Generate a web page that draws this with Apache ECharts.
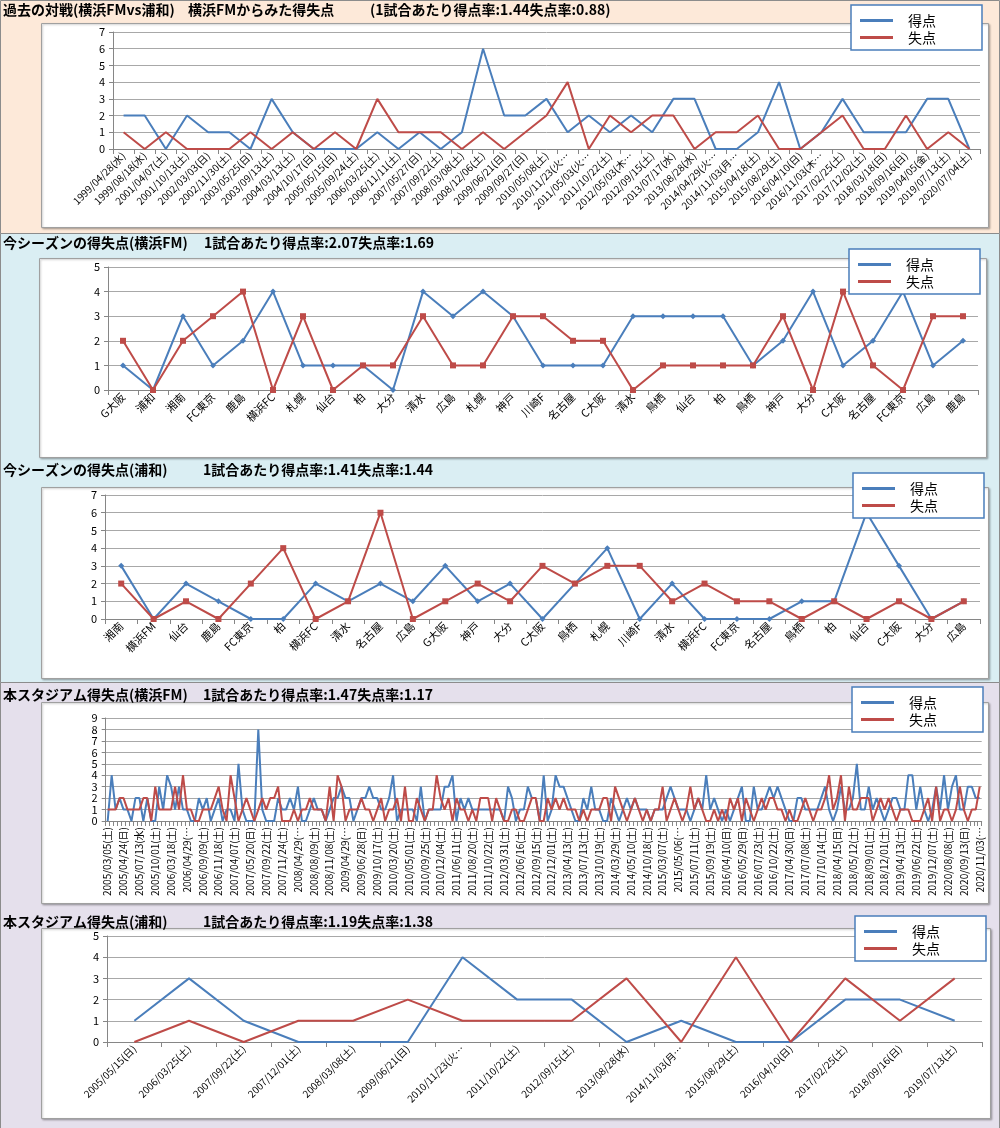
<!DOCTYPE html>
<html><head><meta charset="utf-8">
<script src="https://cdn.jsdelivr.net/npm/echarts@6/dist/echarts.min.js"></script>
<style>html,body{margin:0;padding:0;background:#fff}#c{width:1000px;height:1128px}</style>
</head><body><div id="c"></div>
<script>
const FONT = '"Noto Sans CJK JP", "Noto Sans", sans-serif';

// Panel 1: head-to-head history
const h2hDates = ['1999/04/28(水)','1999/08/18(水)','2001/04/07(土)','2001/10/13(土)','2002/03/03(日)','2002/11/30(土)','2003/05/25(日)','2003/09/13(土)','2004/03/13(土)','2004/10/17(日)','2005/05/15(日)','2005/09/24(土)','2006/03/25(土)','2006/11/11(土)','2007/05/27(日)','2007/09/22(土)','2008/03/08(土)','2008/12/06(土)','2009/06/21(日)','2009/09/27(日)','2010/05/08(土)','2010/11/23(火…','2011/05/03(火…','2011/10/22(土)','2012/05/03(木…','2012/09/15(土)','2013/07/17(水)','2013/08/28(水)','2014/04/29(火…','2014/11/03(月…','2015/04/18(土)','2015/08/29(土)','2016/04/10(日)','2016/11/03(木…','2017/02/25(土)','2017/12/02(土)','2018/03/18(日)','2018/09/16(日)','2019/04/05(金)','2019/07/13(土)','2020/07/04(土)'];
const h2hFor     = [2,2,0,2,1,1,0,3,1,0,0,0,1,0,1,0,1,6,2,2,3,1,2,1,2,1,3,3,0,0,1,4,0,1,3,1,1,1,3,3,0];
const h2hAgainst = [1,0,1,0,0,0,1,0,1,0,1,0,3,1,1,1,0,1,0,1,2,4,0,2,1,2,2,0,1,1,2,0,0,1,2,0,0,2,0,1,0];

// Panel 2: this season (Yokohama FM)
const fmOpponents = ['G大阪','浦和','湘南','FC東京','鹿島','横浜FC','札幌','仙台','柏','大分','清水','広島','札幌','神戸','川崎F','名古屋','C大阪','清水','鳥栖','仙台','柏','鳥栖','神戸','大分','C大阪','名古屋','FC東京','広島','鹿島'];
const fmFor     = [1,0,3,1,2,4,1,1,1,0,4,3,4,3,1,1,1,3,3,3,3,1,2,4,1,2,4,1,2];
const fmAgainst = [2,0,2,3,4,0,3,0,1,1,3,1,1,3,3,2,2,0,1,1,1,1,3,0,4,1,0,3,3];

// Panel 3: this season (Urawa)
const urOpponents = ['湘南','横浜FM','仙台','鹿島','FC東京','柏','横浜FC','清水','名古屋','広島','G大阪','神戸','大分','C大阪','鳥栖','札幌','川崎F','清水','横浜FC','FC東京','名古屋','鳥栖','柏','仙台','C大阪','大分','広島'];
const urFor     = [3,0,2,1,0,0,2,1,2,1,3,1,2,0,2,4,0,2,0,0,0,1,1,6,3,0,1];
const urAgainst = [2,0,1,0,2,4,0,1,6,0,1,2,1,3,2,3,3,1,2,1,1,0,1,0,1,0,1];

// Panel 4: this stadium (Yokohama FM) - dates shown on the axis (every 4th match)
const fmStadiumLabels = ['2005/03/05(土)','2005/04/24(日)','2005/07/13(水)','2005/10/01(土)','2006/03/18(土)','2006/04/29(…','2006/09/09(土)','2006/11/18(土)','2007/04/07(土)','2007/05/20(日)','2007/09/22(土)','2007/11/24(土)','2008/04/29(…','2008/08/09(土)','2008/11/08(土)','2009/04/29(…','2009/06/28(日)','2009/10/17(土)','2010/03/20(土)','2010/05/01(土)','2010/09/25(土)','2010/12/04(土)','2011/06/11(土)','2011/08/20(土)','2011/10/22(土)','2012/03/31(土)','2012/06/16(土)','2012/09/15(土)','2012/12/01(土)','2013/04/13(土)','2013/07/13(土)','2013/10/19(土)','2014/03/29(土)','2014/05/10(土)','2014/10/18(土)','2015/03/07(土)','2015/05/06(…','2015/07/11(土)','2015/09/19(土)','2016/04/10(日)','2016/05/29(日)','2016/07/23(土)','2016/10/22(土)','2017/04/30(日)','2017/07/08(土)','2017/10/14(土)','2018/04/15(日)','2018/05/12(土)','2018/09/01(土)','2018/12/01(土)','2019/04/13(土)','2019/06/22(土)','2019/12/07(土)','2020/08/08(土)','2020/09/13(日)','2020/11/03(…'];
const FM_STEP = 4;
const fmStadiumFor = [
  0,4,1,2,1,1,0,2,2,0, 2,0,0,3,1,4,3,1,3,1, 1,0,0,2,1,2,0,1,2,0, 1,1,0,5,1,0,0,0,8,1,
  0,0,0,2,1,1,2,1,3,0, 0,1,2,1,1,0,1,2,2,3, 2,2,0,1,2,2,3,2,2,1, 1,2,4,0,1,1,1,1,0,3,
  0,1,1,1,1,3,3,4,0,2, 1,2,1,1,1,1,1,1,1,1, 0,3,2,0,1,1,3,2,2,0, 4,0,1,4,3,3,2,1,0,0,
  2,1,3,1,1,0,0,2,1,0, 1,2,1,2,1,1,1,0,1,1, 1,2,3,2,1,1,1,0,1,2, 1,4,1,2,1,0,1,0,1,2,
  3,0,0,3,1,1,2,3,2,3, 2,1,0,0,2,2,1,1,1,1, 2,3,1,0,1,3,1,1,2,5, 1,1,3,1,2,1,0,1,2,2,
  1,1,4,4,1,3,1,0,1,3, 1,4,1,3,4,1,1,3,3,2,2];
const fmStadiumAgainst = [
  1,1,1,2,2,1,1,1,1,2, 2,0,3,1,1,1,1,3,1,4, 1,1,0,0,1,1,1,2,3,1, 0,4,2,0,1,2,1,0,1,2,
  1,2,2,3,0,0,0,1,0,1, 1,2,1,1,1,0,3,0,4,3, 0,1,1,1,2,1,1,0,1,2, 0,1,1,2,0,3,0,0,2,1,
  0,1,1,4,2,1,2,0,2,1, 1,0,1,0,2,2,2,0,2,1, 0,0,1,1,0,0,1,2,2,0, 0,2,1,2,1,2,1,1,1,0,
  1,0,1,1,1,2,2,0,3,2, 1,0,1,2,1,0,1,0,1,1, 3,0,1,2,1,0,1,3,1,2, 1,0,0,1,0,1,0,2,1,2,
  0,2,1,0,1,2,1,2,2,1, 1,0,1,0,0,1,2,1,0,1, 1,2,4,1,2,4,0,3,1,1, 2,2,2,0,1,2,1,2,1,0,
  1,1,1,0,0,0,1,2,0,3, 0,1,1,0,1,3,1,0,1,1,3];

// Panel 5: this stadium (Urawa)
const urStadiumDates = ['2005/05/15(日)','2006/03/25(土)','2007/09/22(土)','2007/12/01(土)','2008/03/08(土)','2009/06/21(日)','2010/11/23(火…','2011/10/22(土)','2012/09/15(土)','2013/08/28(水)','2014/11/03(月…','2015/08/29(土)','2016/04/10(日)','2017/02/25(土)','2018/09/16(日)','2019/07/13(土)'];
const urStadiumFor     = [1,3,1,0,0,0,4,2,2,0,1,0,0,2,2,1];
const urStadiumAgainst = [0,1,0,1,1,2,1,1,1,3,0,4,0,3,1,3];

const titles = [
  [['過去の対戦(横浜FMvs浦和)',3],['横浜FMからみた得失点',188],['(1試合あたり得点率:1.44失点率:0.88)',370]],
  [['今シーズンの得失点(横浜FM)',3],['1試合あたり得点率:2.07失点率:1.69',204]],
  [['今シーズンの得失点(浦和)',3],['1試合あたり得点率:1.41失点率:1.44',203]],
  [['本スタジアム得失点(横浜FM)',3],['1試合あたり得点率:1.47失点率:1.17',203]],
  [['本スタジアム得失点(浦和)',3],['1試合あたり得点率:1.19失点率:1.38',203]]
];
const titleY = [10, 243, 470, 695, 922];

const BLUE = '#4A7EBB', RED = '#BE4B48';
const GRID_C = '#A8A8A8', AXIS_C = '#868686';

// panel-4 category list (dates shown only every FM_STEP matches)
const fmN = fmStadiumFor.length;
const fmCats = [];
for (let i = 0; i < fmN; i++) fmCats.push(i % FM_STEP === 0 && fmStadiumLabels[i / FM_STEP] ? fmStadiumLabels[i / FM_STEP] : '');

const panels = [
  {cats: h2hDates, f: h2hFor, a: h2hAgainst, max: 7, grid: {left:113, top:32, width:867, height:117}, rot: 45, fs: 10, mark: false},
  {cats: fmOpponents, f: fmFor, a: fmAgainst, max: 5, grid: {left:108, top:267, width:870, height:123}, rot: 45, fs: 11, mark: true},
  {cats: urOpponents, f: urFor, a: urAgainst, max: 7, grid: {left:105, top:495, width:875, height:124}, rot: 45, fs: 11, mark: true},
  {cats: fmCats, f: fmStadiumFor, a: fmStadiumAgainst, max: 9, grid: {left:105.7, top:718, width:876, height:103}, rot: 90, fs: 10, mark: false, step: FM_STEP},
  {cats: urStadiumDates, f: urStadiumFor, a: urStadiumAgainst, max: 5, grid: {left:107, top:936, width:875, height:106}, rot: 45, fs: 10, mark: false}
];

const legendBoxes = [[851,5],[849,249],[853,473],[852,687],[855,916]];
const chartBoxes = [[41,23,947,204],[39,258,947,199],[41,487,947,191],[41,702,947,201],[41,928,949,190]];
const sections = [[0,0,233,'#FDE9D9'],[0,233,449,'#DAEEF3'],[0,682,446,'#E5E0EC']];

const grid = [], xAxis = [], yAxis = [], series = [], legend = [];
panels.forEach((p, i) => {
  grid.push(Object.assign({containLabel:false}, p.grid));
  xAxis.push({
    type:'category', gridIndex:i, data:p.cats, boundaryGap:true,
    axisLine:{show:true, lineStyle:{color:AXIS_C, width:1}},
    axisTick:{show:true, length:5, interval:0, lineStyle:{color:AXIS_C}},
    axisLabel:{
      rotate:p.rot, fontSize:p.fs, color:'#000', fontFamily:FONT, margin: p.rot===90 ? 6 : 5,
      interval: p.step ? (idx => idx % p.step === 0) : 0
    },
    splitLine:{show:false}
  });
  yAxis.push({
    type:'value', gridIndex:i, min:0, max:p.max, interval:1,
    axisLine:{show:true, lineStyle:{color:AXIS_C}},
    axisTick:{show:true, length:4, lineStyle:{color:AXIS_C}},
    axisLabel:{fontSize:11, color:'#000', fontFamily:FONT, margin:8},
    splitLine:{show:true, lineStyle:{color:GRID_C, width:1}}
  });
  series.push({
    name:'得点', type:'line', xAxisIndex:i, yAxisIndex:i, data:p.f,
    color:BLUE, lineStyle:{width:2, color:BLUE},
    symbol: p.mark ? 'diamond' : 'none', symbolSize:6, showSymbol:p.mark,
    itemStyle:{color:BLUE}, animation:false, z:2
  });
  series.push({
    name:'失点', type:'line', xAxisIndex:i, yAxisIndex:i, data:p.a,
    color:RED, lineStyle:{width:2, color:RED},
    symbol: p.mark ? 'rect' : 'none', symbolSize:6, showSymbol:p.mark,
    itemStyle:{color:RED}, animation:false, z:3
  });
  legend.push({
    data:['得点','失点'], orient:'vertical', left:legendBoxes[i][0], top:legendBoxes[i][1],
    icon:'rect', itemWidth:33, itemHeight:3, itemGap:0,
    padding:[7,46,4,9], backgroundColor:'#fff', borderColor:BLUE, borderWidth:1.5,
    textStyle:{fontSize:14, lineHeight:17, color:'#000', fontFamily:FONT, padding:[0,0,0,10]},
    selectedMode:false
  });
});

const graphic = [];
sections.forEach(s => graphic.push({type:'rect', z:-30, shape:{x:s[0]+0.5, y:s[1]+0.5, width:999-s[0], height:s[2]}, style:{fill:s[3], stroke:'#8C8C8C', lineWidth:1}}));
chartBoxes.forEach(b => graphic.push({type:'rect', z:-20, shape:{x:b[0]+0.5, y:b[1]+0.5, width:b[2], height:b[3]}, style:{fill:'#fff', stroke:'#A0A0A0', lineWidth:1, shadowBlur:2, shadowOffsetX:1, shadowOffsetY:1, shadowColor:'rgba(0,0,0,0.25)'}}));
titles.forEach((segs, i) => segs.forEach(s => graphic.push({type:'text', z:10, x:s[1], y:titleY[i], style:{text:s[0], font:'bold 14px ' + FONT, fill:'#000', verticalAlign:'middle'}})));

const chart = echarts.init(document.getElementById('c'), null, {renderer:'canvas', width:1000, height:1128});
chart.setOption({animation:false, backgroundColor:'#fff', grid, xAxis, yAxis, series, legend, graphic});
</script></body></html>
